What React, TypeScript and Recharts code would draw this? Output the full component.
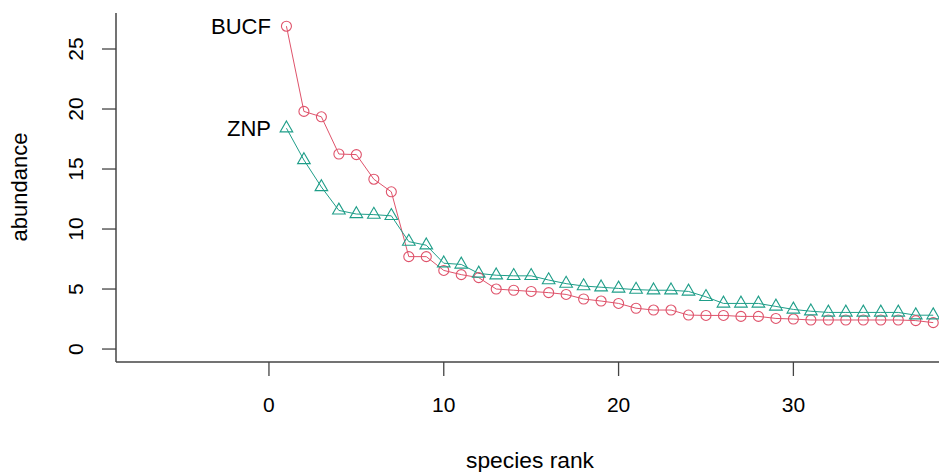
import React from 'react';
import { LineChart, Line, XAxis, YAxis, LabelList, Label } from 'recharts';

const ranks = [1,2,3,4,5,6,7,8,9,10,11,12,13,14,15,16,17,18,19,20,21,22,23,24,25,26,27,28,29,30,31,32,33,34,35,36,37,38];
const bucf = [26.9,19.8,19.35,16.25,16.2,14.15,13.1,7.7,7.7,6.55,6.2,5.95,5.0,4.9,4.8,4.7,4.55,4.17,4.0,3.8,3.4,3.25,3.25,2.83,2.8,2.8,2.72,2.72,2.55,2.5,2.42,2.42,2.42,2.42,2.42,2.42,2.37,2.2];
const znp = [18.4,15.75,13.5,11.55,11.25,11.2,11.1,8.95,8.65,7.15,7.05,6.3,6.15,6.1,6.1,5.75,5.45,5.25,5.15,5.05,4.95,4.9,4.9,4.8,4.35,3.8,3.8,3.8,3.55,3.3,3.15,3.05,3.05,3.05,3.05,3.05,2.82,2.82];
const xTicks = [0, 10, 20, 30];
const yTicks = [0, 5, 10, 15, 20, 25];
const seriesNames = ['BUCF', 'ZNP'];

const data = ranks.map((r, i) => ({ rank: r, BUCF: bucf[i], ZNP: znp[i] }));

const RED = '#DF536B';
const TEAL = '#1F9E89';
const FONT = '"Liberation Sans", Arial, sans-serif';

const CircleDot = (props: any) => {
  const { cx, cy, index } = props;
  if (cx == null || cy == null) return <g key={`c${index}`} />;
  return <circle key={`c${index}`} cx={cx} cy={cy} r={5} fill="none" stroke={RED} strokeWidth={1.1} />;
};

const TriDot = (props: any) => {
  const { cx, cy, index } = props;
  if (cx == null || cy == null) return <g key={`t${index}`} />;
  const r = 7.3;
  const hx = r * 0.866;
  const pts = `${cx},${cy - r} ${cx + hx},${cy + r / 2} ${cx - hx},${cy + r / 2}`;
  return <polygon key={`t${index}`} points={pts} fill="none" stroke={TEAL} strokeWidth={1.1} />;
};

const XTick = (props: any) => {
  const { x, payload } = props;
  return (
    <text x={x} y={412} textAnchor="middle" fontSize={21} fontFamily={FONT} fill="#000">
      {payload.value}
    </text>
  );
};

const YTick = (props: any) => {
  const { y, payload } = props;
  return (
    <text x={83.5} y={y} transform={`rotate(-90, 83.5, ${y})`} textAnchor="middle" fontSize={21} fontFamily={FONT} fill="#000">
      {payload.value}
    </text>
  );
};

const makeSeriesLabel = (name: string) => (props: any) => {
  const { x, y, index } = props;
  if (index !== 0) return null;
  return (
    <text x={x - 15.5} y={y + 7.8} textAnchor="end" fontSize={22} fontFamily={FONT} fill="#000">
      {name}
    </text>
  );
};

export default function App() {
  return (
    <div style={{ position: 'absolute', left: 0, top: 0, width: 939, height: 472, background: '#fff' }}>
      <LineChart width={939} height={472} data={data} margin={{ top: 13, right: 0, bottom: 0, left: 0 }}>
        <XAxis
          dataKey="rank"
          type="number"
          domain={[-8.75, 38.33]}
          allowDataOverflow
          ticks={xTicks}
          tickSize={14}
          height={110}
          tick={<XTick />}
          axisLine={{ stroke: '#444', strokeWidth: 1.5 }}
          tickLine={{ stroke: '#444', strokeWidth: 1.3 }}
        >
          <Label
            content={() => (
              <text x={530} y={468} textAnchor="middle" fontSize={22.8} fontFamily={FONT} fill="#000">
                species rank
              </text>
            )}
          />
        </XAxis>
        <YAxis
          type="number"
          domain={[-1.08, 28.0]}
          allowDataOverflow
          ticks={yTicks}
          tickSize={14}
          width={116}
          tick={<YTick />}
          axisLine={{ stroke: '#444', strokeWidth: 1.5 }}
          tickLine={{ stroke: '#444', strokeWidth: 1.3 }}
        >
          <Label
            content={() => (
              <text x={26.5} y={187} transform="rotate(-90, 26.5, 187)" textAnchor="middle" fontSize={22} fontFamily={FONT} fill="#000">
                abundance
              </text>
            )}
          />
        </YAxis>
        <Line
          dataKey="BUCF"
          stroke={RED}
          strokeWidth={1}
          dot={<CircleDot />}
          isAnimationActive={false}
        >
          <LabelList dataKey="BUCF" content={makeSeriesLabel(seriesNames[0])} />
        </Line>
        <Line
          dataKey="ZNP"
          stroke={TEAL}
          strokeWidth={1}
          dot={<TriDot />}
          isAnimationActive={false}
        >
          <LabelList dataKey="ZNP" content={makeSeriesLabel(seriesNames[1])} />
        </Line>
      </LineChart>
    </div>
  );
}
